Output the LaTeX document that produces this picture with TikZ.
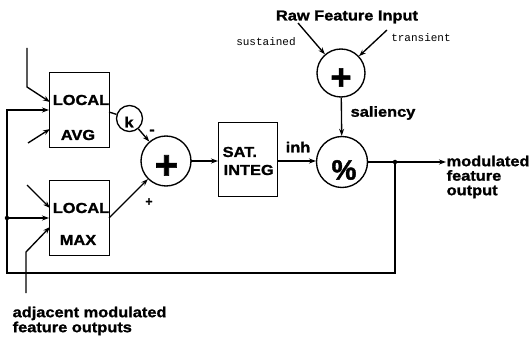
\documentclass[tikz,border=0pt]{standalone}
\usepackage{fontspec}
\usetikzlibrary{arrows.meta}
\newfontfamily\hv[FakeStretch=1.13,BoldFeatures={FakeBold=1.3}]{Liberation Sans}
\newfontfamily\hvplain[BoldFeatures={FakeBold=1.5}]{Liberation Sans}
\newfontfamily\mono{Liberation Mono}
\begin{document}
\begin{tikzpicture}[x=1pt,y=-1pt,line width=1.35pt,
  lbl/.style={font={\hv\bfseries\fontsize{14.5}{15.5}\selectfont},inner sep=0pt},
  small/.style={font={\mono\fontsize{11}{12}\selectfont},inner sep=0pt},
  box/.style={draw,minimum width=60pt,minimum height=75pt,anchor=north west,inner sep=0pt},
  ring/.style={draw,circle,inner sep=0pt},
  arr/.style={-{Stealth[length=7pt,width=5pt]}},
  dot/.style={circle,fill,inner sep=0pt,minimum size=4.5pt}]
\useasboundingbox (0,0) rectangle (531,337);
% boxes
\node[box] (avg) at (49,72) {};
\node[box] (max) at (49,180) {};
\node[box,minimum width=59pt,minimum height=74pt] (sat) at (218,122) {};
\node[lbl] (avgt1) at (81,100) {LOCAL};
\node[lbl] (avgt2) at (78,135) {AVG};
\node[lbl] (maxt1) at (81,208) {LOCAL};
\node[lbl] (maxt2) at (78,240) {MAX};
\node[lbl,anchor=west] (satt1) at (222,152) {SAT.};
\node[lbl,anchor=west] (satt2) at (223,170) {INTEG};
% circles
\node[ring,minimum size=50pt] (sum) at (166,161) {};
\node[ring,minimum size=26pt] (kc) at (129.5,118.5) {};
\node[ring,minimum size=48pt] (pl) at (341,73) {};
\node[ring,minimum size=51pt] (pc) at (342,162) {};
\node[font={\hvplain\bfseries\fontsize{40}{40}\selectfont},inner sep=0pt] (sumt) at (166.5,167) {+};
\node[font={\hvplain\bfseries\fontsize{36}{36}\selectfont},inner sep=0pt] (plt) at (341,79) {+};
\node[font={\hvplain\bfseries\fontsize{28}{28}\selectfont},inner sep=0pt] (pct) at (344,170) {\%};
\node[lbl] (kt) at (129,122) {k};
% labels
\node[lbl] (raw) at (347,17) {Raw Feature Input};
\node[small] (sus) at (266,42) {sustained};
\node[small] (tra) at (421,38) {transient};
\node[lbl,anchor=west] (sal) at (350,113) {saliency};
\node[lbl] (inh) at (298,147) {inh};
\node[lbl] (minus) at (152,132) {-};
\node[font={\hvplain\bfseries\fontsize{12}{12}\selectfont},inner sep=0pt] (plus) at (149,202) {+};
\node[lbl,anchor=north west,align=left,font={\hv\bfseries\fontsize{14.5}{14}\selectfont}] (outt) at (446,155) {modulated\\[0.5pt]feature\\[0.5pt]output};
\node[lbl,anchor=north west,align=left,font={\hv\bfseries\fontsize{14.5}{15}\selectfont}] (adj) at (12,306) {adjacent modulated\\feature outputs};
% coordinates
\coordinate (i1a) at (27,48);
\coordinate (i1b) at (27,87);
\coordinate (i1c) at (50,102);
\coordinate (fbA) at (49,110);
\coordinate (fbB) at (49,218);
\coordinate (fbL) at (7,110);
\coordinate (fbM) at (7,218);
\coordinate (fbBL) at (7,273);
\coordinate (fbBR) at (395,273);
\coordinate (od) at (395,162);
\coordinate (i3a) at (28,143);
\coordinate (i3b) at (50,129);
\coordinate (m1a) at (27,185);
\coordinate (m1b) at (50,208);
\coordinate (m3a) at (26,293);
\coordinate (m3b) at (26,252);
\coordinate (m3c) at (50,227);
\coordinate (avgr) at (109,112);
\coordinate (maxr) at (109,218);
\coordinate (sumr) at (191,161);
\coordinate (satl) at (218,161);
\coordinate (satr) at (277,161);
\coordinate (pcl) at (316,161);
\coordinate (rawa) at (298,23);
\coordinate (tra1) at (387,30);
\coordinate (outa) at (446,162);
% connectors
\draw[arr] (i1a) -- (i1b) -- (i1c);
\draw[arr] (od) -- (fbBR) -- (fbBL) -- (fbL) -- (fbA);
\draw[arr] (fbM) -- (fbB);
\draw[arr] (i3a) -- (i3b);
\draw[arr] (m1a) -- (m1b);
\draw[arr] (m3a) -- (m3b) -- (m3c);
\draw (avgr) -- (kc);
\draw[arr] (kc) -- (sum);
\draw[arr] (maxr) -- (sum);
\draw[arr] (sumr) -- (satl);
\draw[arr] (satr) -- (pcl);
\draw[arr] (rawa) -- (pl);
\draw[arr] (tra1) -- (pl);
\draw[arr] (pl) -- (pc);
\draw[arr] (pc.east) -- (outa);
\node[dot] (d1) at (od) {};
\node[dot] (d2) at (fbM) {};
\end{tikzpicture}
\end{document}
